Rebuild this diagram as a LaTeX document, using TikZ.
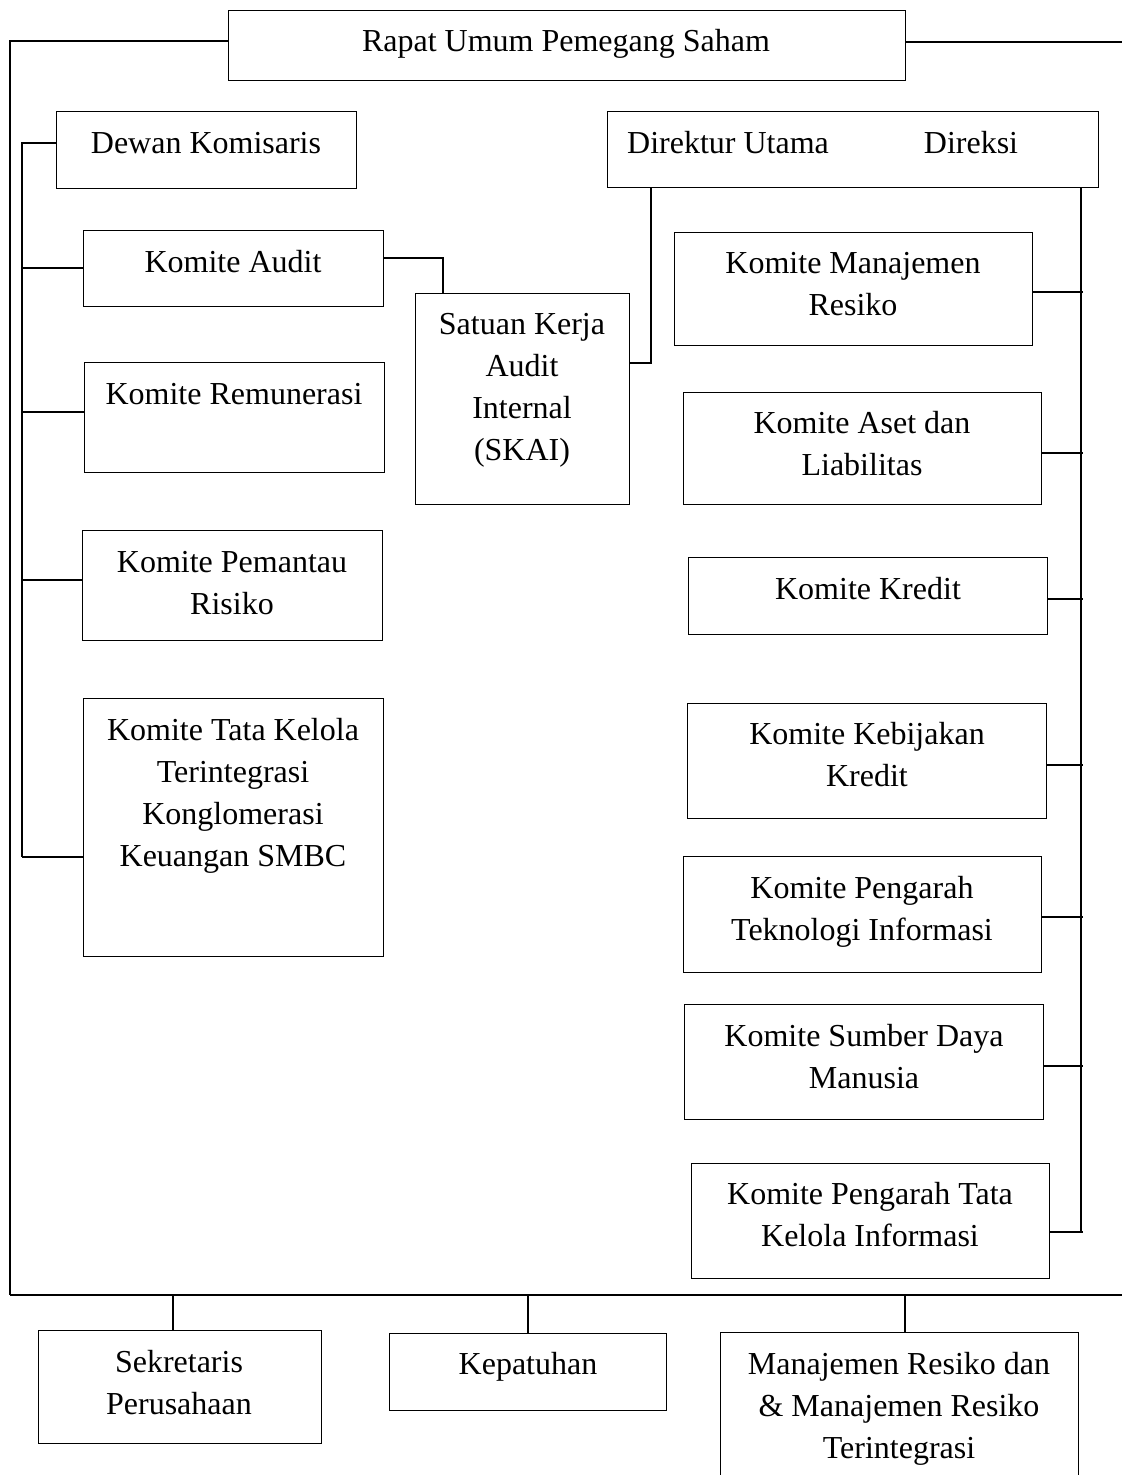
\documentclass[tikz,border=0pt]{standalone}
\usepackage{fontspec}
\setmainfont{Liberation Serif}
\usepackage{tikz}
\usetikzlibrary{positioning,calc}
\tikzset{
  kotak/.style={draw, line width=1.3pt, inner sep=0pt, anchor=north west},
  teks/.style={font=\fontsize{32}{42}\selectfont, align=center, inner sep=0pt, anchor=base},
  garis/.style={line width=1.5pt}
}

\begin{document}
\begin{tikzpicture}[x=1pt, y=-1pt]
\useasboundingbox (0,0) rectangle (1122,1475);
% RUPS
\node[kotak, minimum width=677, minimum height=70] (rups) at (228,10) {};
\node[teks] (t-rups) at (566,51) {Rapat Umum Pemegang Saham};
% Dewan Komisaris dan komite (teks: baseline baris terakhir)
\node[kotak, minimum width=300, minimum height=77] (dk) at (56,111) {};
\node[teks] (t-dk) at (206,153) {Dewan Komisaris};
\node[kotak, minimum width=300, minimum height=76] (ka) at (83,230) {};
\node[teks] (t-ka) at (233,272) {Komite Audit};
\node[kotak, minimum width=300, minimum height=110] (kr) at (84,362) {};
\node[teks] (t-kr) at (234,404) {Komite Remunerasi};
\node[kotak, minimum width=300, minimum height=110] (kp) at (82,530) {};
\node[teks] (t-kp) at (232,614) {Komite Pemantau\\Risiko};
\node[kotak, minimum width=300, minimum height=258] (ktk) at (83,698) {};
\node[teks] (t-ktk) at (233,866) {Komite Tata Kelola\\Terintegrasi\\Konglomerasi\\Keuangan SMBC};
% SKAI
\node[kotak, minimum width=214, minimum height=211] (skai) at (415,293) {};
\node[teks] (t-skai) at (522,460) {Satuan Kerja\\Audit\\Internal\\(SKAI)};
% Direksi dan komite
\node[kotak, minimum width=491, minimum height=76] (dir) at (607,111) {};
\node[teks] (t-du) at (728,153) {Direktur Utama};
\node[teks] (t-dir) at (971,153) {Direksi};
\node[kotak, minimum width=358, minimum height=113] (kmr) at (674,232) {};
\node[teks] (t-kmr) at (853,315) {Komite Manajemen\\Resiko};
\node[kotak, minimum width=358, minimum height=112] (kal) at (683,392) {};
\node[teks] (t-kal) at (862,475) {Komite Aset dan\\Liabilitas};
\node[kotak, minimum width=359, minimum height=77] (kk) at (688,557) {};
\node[teks] (t-kk) at (868,599) {Komite Kredit};
\node[kotak, minimum width=359, minimum height=115] (kkk) at (687,703) {};
\node[teks] (t-kkk) at (867,786) {Komite Kebijakan\\Kredit};
\node[kotak, minimum width=358, minimum height=116] (kpti) at (683,856) {};
\node[teks] (t-kpti) at (862,940) {Komite Pengarah\\Teknologi Informasi};
\node[kotak, minimum width=359, minimum height=115] (ksdm) at (684,1004) {};
\node[teks] (t-ksdm) at (864,1088) {Komite Sumber Daya\\Manusia};
\node[kotak, minimum width=358, minimum height=115] (kptk) at (691,1163) {};
\node[teks] (t-kptk) at (870,1246) {Komite Pengarah Tata\\Kelola Informasi};
% unit bawah
\node[kotak, minimum width=283, minimum height=113] (sp) at (38,1330) {};
\node[teks] (t-sp) at (179,1414) {Sekretaris\\Perusahaan};
\node[kotak, minimum width=277, minimum height=77] (kep) at (389,1333) {};
\node[teks] (t-kep) at (528,1374) {Kepatuhan};
\node[kotak, minimum width=358, minimum height=170] (mr) at (720,1332) {};
\node[teks] (t-mr) at (899,1458) {Manajemen Resiko dan\\\& Manajemen Resiko\\Terintegrasi};

% garis luar
\coordinate (kiri) at (10,1295);
\coordinate (kanan) at (1122,1295);
\coordinate (ujung) at (1122,42);
\draw[garis] (rups.west |- 0,41) -| (kiri);
\draw[garis] (rups.east |- 0,42) -- (ujung);
\draw[line width=2pt] (kiri) -- (kanan);
% garis komisaris
\draw[garis] (dk.west |- 0,143) -- (22,143) -- (22,857);
\foreach \n/\y in {ka/268, kr/412, kp/580, ktk/857}
  \draw[garis] (\n.west |- 0,\y) -- (22,\y);
\draw[garis] (ka.east |- 0,258) -| (skai.north -| 443,0);
\draw[garis] (dir.south -| 651,0) |- (skai.east |- 0,363);
% garis direksi
\draw[garis] (dir.south -| 1081,0) -- (1081,1233);
\foreach \n/\y in {kmr/292, kal/453, kk/599, kkk/765, kpti/917, ksdm/1066, kptk/1232}
  \draw[garis] (\n.east |- 0,\y) -- (1083,\y);
% garis unit bawah
\draw[garis] (kiri -| 173,0) -- (sp.north -| 173,0);
\draw[garis] (kiri -| 528,0) -- (kep.north -| 528,0);
\draw[garis] (kiri -| 905,0) -- (mr.north -| 905,0);
\end{tikzpicture}
\end{document}
